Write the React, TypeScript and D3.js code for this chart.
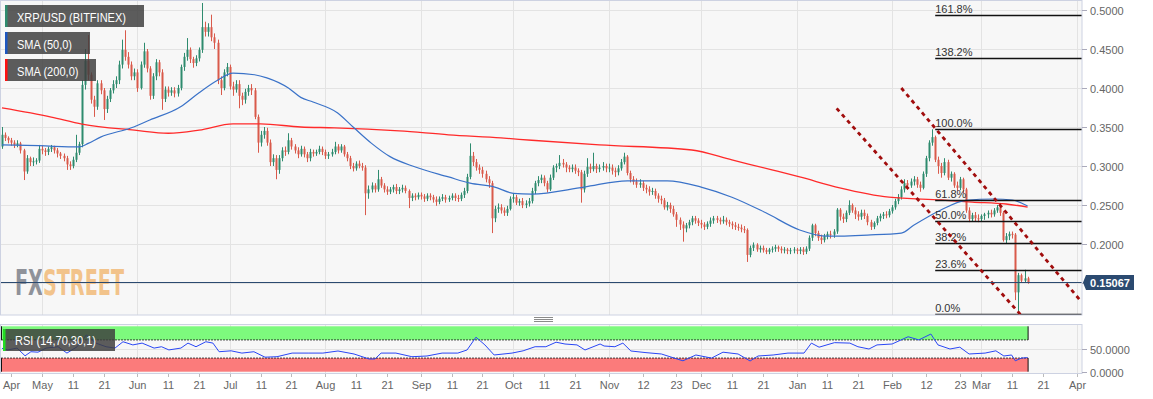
import React, { useEffect, useRef } from "react";
import * as d3 from "d3";

// daily XRP/USD candles from 2019-04-18, open of a day = close of the day before
const firstDay = "2019-04-18";
const lastDay = "2020-03-16";
const firstOpen = 0.325;

const closes = [
  0.340, 0.336, 0.333, 0.330, 0.327, 0.329, 0.320, 0.293, 0.310, 0.305,
  0.306, 0.307, 0.322, 0.320, 0.318, 0.322, 0.324, 0.320, 0.316, 0.313,
  0.310, 0.302, 0.300, 0.308, 0.317, 0.328, 0.404, 0.435, 0.417, 0.385,
  0.376, 0.406, 0.397, 0.373, 0.386, 0.397, 0.405, 0.410, 0.430, 0.449,
  0.440, 0.430, 0.415, 0.420, 0.400, 0.430, 0.447, 0.425, 0.390, 0.415,
  0.433, 0.420, 0.386, 0.398, 0.394, 0.397, 0.393, 0.400, 0.427, 0.440,
  0.449, 0.437, 0.432, 0.438, 0.449, 0.478, 0.472, 0.478, 0.465, 0.458,
  0.410, 0.400, 0.420, 0.427, 0.402, 0.398, 0.405, 0.390, 0.385, 0.395,
  0.400, 0.397, 0.363, 0.330, 0.340, 0.345, 0.330, 0.305, 0.310, 0.295,
  0.310, 0.320, 0.318, 0.333, 0.325, 0.320, 0.315, 0.322, 0.315, 0.310,
  0.318, 0.316, 0.318, 0.322, 0.318, 0.313, 0.315, 0.318, 0.325, 0.320,
  0.325, 0.315, 0.310, 0.300, 0.297, 0.303, 0.300, 0.298, 0.265, 0.270,
  0.275, 0.270, 0.283, 0.275, 0.270, 0.267, 0.270, 0.273, 0.268, 0.270,
  0.272, 0.268, 0.259, 0.262, 0.260, 0.263, 0.261, 0.258, 0.262, 0.260,
  0.257, 0.254, 0.258, 0.260, 0.257, 0.259, 0.262, 0.259, 0.258, 0.263,
  0.268, 0.286, 0.313, 0.305, 0.298, 0.295, 0.290, 0.283, 0.278, 0.233,
  0.245, 0.247, 0.243, 0.240, 0.245, 0.258, 0.260, 0.253, 0.255, 0.250,
  0.252, 0.255, 0.268, 0.278, 0.282, 0.285, 0.278, 0.270, 0.285, 0.298,
  0.300, 0.304, 0.302, 0.298, 0.296, 0.298, 0.294, 0.292, 0.270, 0.290,
  0.299, 0.296, 0.300, 0.296, 0.298, 0.300, 0.297, 0.298, 0.294, 0.292,
  0.297, 0.305, 0.312, 0.291, 0.283, 0.280, 0.276, 0.278, 0.272, 0.270,
  0.267, 0.268, 0.262, 0.258, 0.256, 0.247, 0.250, 0.245, 0.238, 0.231,
  0.225, 0.220, 0.224, 0.228, 0.233, 0.230, 0.227, 0.225, 0.222, 0.226,
  0.230, 0.233, 0.231, 0.229, 0.231, 0.228, 0.226, 0.224, 0.222, 0.221,
  0.219, 0.218, 0.186, 0.195, 0.199, 0.193, 0.195, 0.192, 0.190, 0.193,
  0.194, 0.196, 0.194, 0.192, 0.193, 0.191, 0.192, 0.193, 0.191, 0.193,
  0.190, 0.194, 0.208, 0.224, 0.214, 0.208, 0.205, 0.210, 0.213, 0.212,
  0.216, 0.244, 0.235, 0.232, 0.240, 0.250, 0.243, 0.238, 0.235, 0.240,
  0.236, 0.228, 0.222, 0.227, 0.233, 0.236, 0.238, 0.237, 0.242, 0.247,
  0.255, 0.260, 0.270, 0.278, 0.275, 0.280, 0.283, 0.276, 0.272, 0.290,
  0.310, 0.330, 0.337, 0.308, 0.300, 0.291, 0.305, 0.285, 0.290, 0.275,
  0.272, 0.283, 0.270, 0.243, 0.232, 0.237, 0.233, 0.232, 0.236, 0.238,
  0.240, 0.238, 0.243, 0.247, 0.240, 0.205, 0.210, 0.213, 0.212, 0.138,
  0.160, 0.153, 0.156, 0.15067,
];

const highs = [
  0.350, 0.343, 0.338, 0.336, 0.333, 0.333, 0.331, 0.322, 0.314, 0.312,
  0.311, 0.310, 0.327, 0.326, 0.323, 0.325, 0.327, 0.326, 0.323, 0.318,
  0.316, 0.313, 0.306, 0.312, 0.340, 0.331, 0.410, 0.450, 0.468, 0.420,
  0.390, 0.410, 0.410, 0.400, 0.390, 0.400, 0.410, 0.415, 0.435, 0.462,
  0.474, 0.446, 0.434, 0.425, 0.424, 0.434, 0.458, 0.450, 0.428, 0.419,
  0.437, 0.436, 0.424, 0.402, 0.402, 0.401, 0.401, 0.404, 0.430, 0.445,
  0.464, 0.452, 0.440, 0.442, 0.452, 0.509, 0.485, 0.483, 0.494, 0.470,
  0.462, 0.415, 0.424, 0.432, 0.430, 0.408, 0.410, 0.410, 0.394, 0.399,
  0.404, 0.405, 0.400, 0.366, 0.345, 0.350, 0.349, 0.334, 0.315, 0.314,
  0.314, 0.324, 0.325, 0.342, 0.336, 0.328, 0.324, 0.326, 0.325, 0.318,
  0.322, 0.321, 0.321, 0.326, 0.325, 0.321, 0.318, 0.322, 0.331, 0.328,
  0.328, 0.327, 0.318, 0.313, 0.304, 0.306, 0.307, 0.304, 0.301, 0.275,
  0.279, 0.278, 0.295, 0.286, 0.278, 0.274, 0.273, 0.276, 0.277, 0.273,
  0.276, 0.275, 0.270, 0.265, 0.265, 0.266, 0.266, 0.264, 0.265, 0.265,
  0.263, 0.261, 0.261, 0.264, 0.263, 0.262, 0.265, 0.265, 0.263, 0.266,
  0.272, 0.290, 0.329, 0.318, 0.309, 0.302, 0.299, 0.294, 0.287, 0.281,
  0.249, 0.252, 0.251, 0.247, 0.249, 0.261, 0.265, 0.263, 0.258, 0.259,
  0.256, 0.259, 0.272, 0.281, 0.287, 0.289, 0.288, 0.281, 0.289, 0.301,
  0.303, 0.314, 0.309, 0.305, 0.301, 0.302, 0.302, 0.297, 0.295, 0.294,
  0.310, 0.303, 0.317, 0.303, 0.302, 0.305, 0.303, 0.303, 0.302, 0.298,
  0.301, 0.309, 0.317, 0.314, 0.294, 0.287, 0.284, 0.283, 0.281, 0.276,
  0.274, 0.272, 0.271, 0.265, 0.262, 0.259, 0.254, 0.253, 0.249, 0.241,
  0.234, 0.229, 0.227, 0.231, 0.236, 0.236, 0.233, 0.231, 0.228, 0.229,
  0.234, 0.236, 0.236, 0.234, 0.236, 0.234, 0.231, 0.229, 0.228, 0.226,
  0.225, 0.223, 0.220, 0.198, 0.202, 0.201, 0.198, 0.198, 0.195, 0.195,
  0.197, 0.199, 0.198, 0.197, 0.196, 0.195, 0.195, 0.196, 0.195, 0.196,
  0.196, 0.197, 0.211, 0.226, 0.226, 0.217, 0.212, 0.213, 0.216, 0.217,
  0.219, 0.246, 0.246, 0.239, 0.243, 0.256, 0.252, 0.247, 0.242, 0.244,
  0.244, 0.239, 0.231, 0.229, 0.236, 0.239, 0.241, 0.242, 0.245, 0.250,
  0.258, 0.264, 0.274, 0.283, 0.282, 0.284, 0.287, 0.286, 0.280, 0.293,
  0.313, 0.333, 0.347, 0.339, 0.312, 0.304, 0.310, 0.308, 0.293, 0.292,
  0.280, 0.286, 0.285, 0.272, 0.247, 0.240, 0.241, 0.238, 0.238, 0.240,
  0.243, 0.244, 0.246, 0.250, 0.249, 0.242, 0.214, 0.216, 0.216, 0.214,
  0.163, 0.162, 0.167, 0.158,
];

const lows = [
  0.322, 0.332, 0.329, 0.326, 0.323, 0.324, 0.316, 0.282, 0.290, 0.300,
  0.300, 0.302, 0.304, 0.315, 0.313, 0.314, 0.318, 0.316, 0.311, 0.309,
  0.306, 0.295, 0.295, 0.297, 0.305, 0.314, 0.324, 0.398, 0.410, 0.380,
  0.363, 0.372, 0.392, 0.359, 0.368, 0.382, 0.393, 0.400, 0.405, 0.425,
  0.435, 0.425, 0.410, 0.410, 0.395, 0.398, 0.426, 0.420, 0.385, 0.386,
  0.410, 0.415, 0.372, 0.382, 0.389, 0.390, 0.388, 0.389, 0.397, 0.422,
  0.435, 0.432, 0.426, 0.428, 0.434, 0.445, 0.466, 0.466, 0.460, 0.450,
  0.405, 0.391, 0.397, 0.415, 0.398, 0.390, 0.394, 0.374, 0.378, 0.380,
  0.390, 0.391, 0.360, 0.317, 0.325, 0.335, 0.326, 0.300, 0.300, 0.283,
  0.290, 0.306, 0.313, 0.315, 0.321, 0.316, 0.310, 0.312, 0.311, 0.305,
  0.306, 0.312, 0.313, 0.315, 0.314, 0.309, 0.309, 0.312, 0.315, 0.316,
  0.317, 0.312, 0.306, 0.296, 0.293, 0.294, 0.297, 0.294, 0.237, 0.258,
  0.266, 0.266, 0.267, 0.272, 0.266, 0.263, 0.264, 0.266, 0.264, 0.264,
  0.266, 0.265, 0.246, 0.255, 0.256, 0.257, 0.257, 0.254, 0.255, 0.256,
  0.253, 0.249, 0.251, 0.255, 0.253, 0.254, 0.256, 0.255, 0.254, 0.255,
  0.259, 0.265, 0.283, 0.300, 0.294, 0.290, 0.285, 0.279, 0.272, 0.214,
  0.228, 0.240, 0.239, 0.236, 0.236, 0.243, 0.253, 0.250, 0.249, 0.246,
  0.246, 0.248, 0.252, 0.264, 0.274, 0.278, 0.274, 0.266, 0.268, 0.282,
  0.292, 0.296, 0.298, 0.292, 0.292, 0.292, 0.290, 0.287, 0.253, 0.266,
  0.286, 0.291, 0.293, 0.291, 0.292, 0.294, 0.292, 0.292, 0.289, 0.286,
  0.288, 0.294, 0.302, 0.288, 0.279, 0.276, 0.272, 0.272, 0.268, 0.265,
  0.262, 0.263, 0.258, 0.253, 0.251, 0.244, 0.243, 0.240, 0.235, 0.222,
  0.218, 0.203, 0.215, 0.220, 0.224, 0.226, 0.223, 0.220, 0.218, 0.219,
  0.222, 0.226, 0.227, 0.225, 0.226, 0.224, 0.222, 0.219, 0.218, 0.217,
  0.215, 0.214, 0.177, 0.183, 0.191, 0.190, 0.189, 0.189, 0.187, 0.187,
  0.189, 0.190, 0.190, 0.188, 0.188, 0.187, 0.187, 0.188, 0.187, 0.187,
  0.186, 0.187, 0.191, 0.204, 0.210, 0.204, 0.200, 0.202, 0.206, 0.207,
  0.208, 0.213, 0.230, 0.227, 0.228, 0.237, 0.240, 0.232, 0.230, 0.231,
  0.232, 0.224, 0.218, 0.219, 0.224, 0.229, 0.232, 0.233, 0.234, 0.239,
  0.244, 0.251, 0.257, 0.266, 0.270, 0.272, 0.275, 0.272, 0.267, 0.270,
  0.286, 0.306, 0.326, 0.305, 0.290, 0.285, 0.288, 0.282, 0.280, 0.272,
  0.268, 0.269, 0.265, 0.240, 0.228, 0.229, 0.229, 0.228, 0.229, 0.231,
  0.233, 0.234, 0.235, 0.240, 0.236, 0.203, 0.200, 0.205, 0.207, 0.128,
  0.109, 0.150, 0.150, 0.149,
];

// moving averages (day number from firstDay, value)
const sma50Days = [0, 12, 25, 28, 32, 42, 48, 58, 64, 70, 75, 82, 86, 93, 97, 101, 109, 114, 120, 126, 134, 145, 152, 160, 166, 172, 189, 203, 216, 227, 237, 248, 259, 268, 281, 292, 296, 305, 313, 322, 328, 333];
const sma50Vals = [0.327, 0.326, 0.3244, 0.329, 0.337, 0.349, 0.359, 0.376, 0.394, 0.41, 0.419, 0.417, 0.413, 0.4, 0.388, 0.382, 0.368, 0.35, 0.329, 0.312, 0.299, 0.286, 0.278, 0.273, 0.265, 0.264, 0.273, 0.281, 0.281, 0.273, 0.26, 0.24, 0.218, 0.21, 0.2115, 0.214, 0.224, 0.244, 0.256, 0.2577, 0.2564, 0.2487];

const sma200Days = [0, 16, 26, 43, 54, 64, 75, 84, 97, 108, 129, 145, 162, 172, 194, 224, 237, 250, 259, 272, 288, 305, 315, 326, 333];
const sma200Vals = [0.3744, 0.3628, 0.3538, 0.346, 0.342, 0.346, 0.354, 0.354, 0.35, 0.349, 0.345, 0.34, 0.336, 0.333, 0.327, 0.3205, 0.3077, 0.295, 0.286, 0.272, 0.26, 0.2564, 0.2538, 0.2513, 0.2474];

// RSI(14)
const rsiDays = [0, 1.9, 4.9, 7.5, 9.4, 11.7, 14.3, 18.2, 21.1, 24.4, 27.4, 30.5, 33.8, 36.7, 39.3, 42.5, 45.5, 49.4, 51.8, 54.2, 58.1, 60.4, 63, 66.2, 68.5, 70.5, 74.4, 77.9, 81.8, 85.4, 89.3, 94.2, 99.4, 104.2, 109.1, 114.3, 119.2, 121.1, 123.1, 127.9, 133.1, 138, 142.9, 148, 151, 153.9, 156.8, 159.8, 165.6, 169.2, 173.1, 176.6, 179.9, 182.8, 186.7, 189.3, 194.2, 195.5, 199, 201.6, 204.2, 209.1, 214.1, 219.2, 221.1, 225.3, 230.4, 234.1, 239, 242.9, 245.5, 250.4, 255.2, 260.4, 262.8, 265.3, 270.3, 275.3, 277.9, 281.5, 284.1, 289, 294.2, 297.7, 301.6, 303.9, 307.8, 311, 314, 319.2, 322.7, 325.3, 327.8, 329, 331, 333];
const rsiVals = [51.5, 48, 52, 35, 44, 43, 52, 55, 41, 55, 81, 63, 55, 52, 66, 59, 63, 52, 55, 48, 52, 63, 55, 66, 63, 44, 46, 41, 44, 32, 33, 41, 41, 41, 45.6, 39, 28, 28, 41, 41, 33, 34.6, 41, 41, 47.8, 76, 59, 36.8, 41, 46, 55, 55, 65, 61, 59, 47.8, 61, 56.6, 55, 63, 45.6, 42, 39, 28, 24, 36.8, 30, 43, 39, 23.6, 34.6, 36.8, 41, 41, 63, 54, 64, 63, 55, 50, 59, 61, 77, 70, 83, 59, 50, 54, 39, 41, 46, 34.6, 36.8, 24, 30, 31];

// 0.15 is a grid line only: its label sits under the last price tag
const priceGrid = [0.15, 0.2, 0.25, 0.3, 0.35, 0.4, 0.45, 0.5];
const priceTicks = [0.2, 0.25, 0.3, 0.35, 0.4, 0.45, 0.5];
const rsiTicks = [0, 50];

const dateTicks = ["2019-04-21", "2019-05-01", "2019-05-11", "2019-05-21", "2019-06-01", "2019-06-11", "2019-06-21", "2019-07-01", "2019-07-11", "2019-07-21", "2019-08-01", "2019-08-11", "2019-08-21", "2019-09-01", "2019-09-11", "2019-09-21", "2019-10-01", "2019-10-11", "2019-10-21", "2019-11-01", "2019-11-12", "2019-11-23", "2019-12-01", "2019-12-11", "2019-12-21", "2020-01-01", "2020-01-11", "2020-01-21", "2020-02-01", "2020-02-12", "2020-02-23", "2020-03-01", "2020-03-11", "2020-03-21", "2020-04-01"];
const dateLabels = ["Apr", "May", "11", "21", "Jun", "11", "21", "Jul", "11", "21", "Aug", "11", "21", "Sep", "11", "21", "Oct", "11", "21", "Nov", "12", "23", "Dec", "11", "21", "Jan", "11", "21", "Feb", "12", "23", "Mar", "11", "21", "Apr"];
const monthLines = ["2019-05-01", "2019-06-01", "2019-07-01", "2019-08-01", "2019-09-01", "2019-10-01", "2019-11-01", "2019-12-01", "2020-01-01", "2020-02-01", "2020-03-01", "2020-04-01"];

// fibonacci retracement of the Feb high / Mar low
const fibLevels = [0, 0.236, 0.382, 0.5, 0.618, 1, 1.382, 1.618];
const fibLabels = ["0.0%", "23.6%", "38.2%", "50.0%", "61.8%", "100.0%", "138.2%", "161.8%"];
const fibLow = 0.1103;
const fibHigh = 0.3474;
const fibStart = "2020-02-15";

// descending channel drawn on the chart
const channelUpperDays = ["2020-02-04", "2020-04-02"];
const channelUpperVals = [0.4, 0.1282];
const channelLowerDays = ["2020-01-14", "2020-03-14"];
const channelLowerVals = [0.3738, 0.1082];

const lastPrice = 0.15067;

const GREEN = "#2e8b6e";
const RED = "#d95a4b";
const FONT = "'Liberation Sans', Arial, sans-serif";

function App() {
  const svgRef = useRef<SVGSVGElement>(null);
  const width = 1153;
  const height = 399;

  const left = 1;
  const right = 1082;
  const mainTop = 0;
  const mainBottom = 315;
  const rsiTop = 324;
  const rsiBottom = 373;

  useEffect(() => {
    const svg = d3.select(svgRef.current);
    svg.selectAll("*").remove();

    const parse = d3.utcParse("%Y-%m-%d");
    const start = parse(firstDay)!;
    const x = d3.scaleUtc().domain([start, parse(lastDay)!]).range([1.96, 1027.6]);
    const xi = (i: number) => x(new Date(start.getTime() + i * 864e5));
    const y = d3.scaleLinear().domain([0.2, 0.5]).range([244, 10]);
    const yr = d3.scaleLinear().domain([0, 50]).range([371.7, 349]);

    const defs = svg.append("defs");
    defs.append("clipPath").attr("id", "mainClip")
      .append("rect").attr("x", left).attr("y", mainTop).attr("width", right - left).attr("height", mainBottom - mainTop);
    defs.append("clipPath").attr("id", "rsiClip")
      .append("rect").attr("x", left).attr("y", rsiTop).attr("width", right - left).attr("height", rsiBottom - rsiTop);
    // two-colour fill for the FXSTREET watermark
    const wmGrad = defs.append("linearGradient").attr("id", "wmFill")
      .attr("gradientUnits", "userSpaceOnUse").attr("x1", 15).attr("x2", 124).attr("y1", 0).attr("y2", 0);
    wmGrad.append("stop").attr("offset", 0).attr("stop-color", "#8f929a");
    wmGrad.append("stop").attr("offset", 0.25).attr("stop-color", "#8f929a");
    wmGrad.append("stop").attr("offset", 0.25).attr("stop-color", "#f2c38b");
    wmGrad.append("stop").attr("offset", 1).attr("stop-color", "#f2c38b");

    svg.append("rect").attr("width", width).attr("height", height).attr("fill", "#fff");

    // panels
    svg.append("rect").attr("x", left).attr("y", mainTop).attr("width", right - left).attr("height", mainBottom - mainTop).attr("fill", "#f7f7f7");
    svg.append("rect").attr("x", left).attr("y", rsiTop).attr("width", right - left).attr("height", rsiBottom - rsiTop).attr("fill", "#f7f7f7");

    // grid
    const grid = svg.append("g").attr("stroke", "#e3e3e3").attr("stroke-width", 1);
    grid.selectAll("line.h").data(priceGrid).join("line")
      .attr("x1", left).attr("x2", right)
      .attr("y1", (d) => Math.round(y(d)) + 0.5).attr("y2", (d) => Math.round(y(d)) + 0.5);
    grid.selectAll("line.vm").data(monthLines).join("line")
      .attr("x1", (d) => Math.round(x(parse(d)!)) + 0.5).attr("x2", (d) => Math.round(x(parse(d)!)) + 0.5)
      .attr("y1", mainTop).attr("y2", mainBottom);
    grid.selectAll("line.vr").data(monthLines).join("line")
      .attr("x1", (d) => Math.round(x(parse(d)!)) + 0.5).attr("x2", (d) => Math.round(x(parse(d)!)) + 0.5)
      .attr("y1", rsiTop).attr("y2", rsiBottom);
    grid.append("line").attr("x1", left).attr("x2", right).attr("y1", Math.round(yr(50)) + 0.5).attr("y2", Math.round(yr(50)) + 0.5);

    // watermark
    svg.append("text").attr("x", 15).attr("y", 295)
      .attr("font-family", "'DejaVu Sans', Roboto, sans-serif").attr("font-weight", "bold").attr("font-size", 35)
      .attr("textLength", 109).attr("lengthAdjust", "spacingAndGlyphs")
      .attr("fill", "url(#wmFill)").text("FXSTREET");

    const main = svg.append("g").attr("clip-path", "url(#mainClip)");

    // candles
    const candles = closes.map((c, i) => ({
      i,
      o: i === 0 ? firstOpen : closes[i - 1],
      h: highs[i],
      l: lows[i],
      c,
    }));
    const cx = (i: number) => Math.round(xi(i)) - 1;
    main.append("g").selectAll("line").data(candles).join("line")
      .attr("x1", (d) => cx(d.i) + 1.5).attr("x2", (d) => cx(d.i) + 1.5)
      .attr("y1", (d) => y(d.h)).attr("y2", (d) => y(d.l))
      .attr("stroke", (d) => (d.c >= d.o ? GREEN : RED)).attr("stroke-width", 1);
    main.append("g").selectAll("rect").data(candles).join("rect")
      .attr("x", (d) => cx(d.i) + 0.5).attr("width", 2)
      .attr("y", (d) => y(Math.max(d.o, d.c)))
      .attr("height", (d) => Math.max(1, Math.abs(y(d.o) - y(d.c))))
      .attr("fill", (d) => (d.c >= d.o ? GREEN : RED));

    // moving averages
    const smaLine = d3.line<[number, number]>().x((d) => xi(d[0])).y((d) => y(d[1])).curve(d3.curveMonotoneX);
    main.append("path").attr("d", smaLine(sma200Days.map((d, k) => [d, sma200Vals[k]]))!)
      .attr("fill", "none").attr("stroke", "#ff2a2a").attr("stroke-width", 1.3);
    main.append("path").attr("d", smaLine(sma50Days.map((d, k) => [d, sma50Vals[k]]))!)
      .attr("fill", "none").attr("stroke", "#3a72c8").attr("stroke-width", 1.2);

    // fibonacci
    const fibX = x(parse(fibStart)!);
    const fib = main.append("g");
    fib.selectAll("line").data(fibLevels).join("line")
      .attr("x1", fibX).attr("x2", right)
      .attr("y1", (d) => Math.round(y(fibLow + d * (fibHigh - fibLow))) + 0.5)
      .attr("y2", (d) => Math.round(y(fibLow + d * (fibHigh - fibLow))) + 0.5)
      .attr("stroke", "#111").attr("stroke-width", 1.3);
    fib.selectAll("text").data(fibLevels).join("text")
      .attr("x", fibX).attr("y", (d) => Math.round(y(fibLow + d * (fibHigh - fibLow))) - 2)
      .attr("font-family", FONT).attr("font-size", 11).attr("fill", "#333")
      .text((d, k) => fibLabels[k]);

    // channel
    const chan = d3.line<[Date, number]>().x((d) => x(d[0])).y((d) => y(d[1]));
    const chanStyle = (p: d3.Selection<SVGPathElement, unknown, null, undefined>) =>
      p.attr("fill", "none").attr("stroke", "#a10d0d").attr("stroke-width", 2.8).attr("stroke-dasharray", "4 4");
    main.append("path").attr("d", chan(channelUpperDays.map((d, k) => [parse(d)!, channelUpperVals[k]]))!).call(chanStyle);
    main.append("path").attr("d", chan(channelLowerDays.map((d, k) => [parse(d)!, channelLowerVals[k]]))!).call(chanStyle);

    // last price line
    const py = Math.round(y(lastPrice)) + 0.5;
    main.append("line").attr("x1", left).attr("x2", right).attr("y1", py).attr("y2", py)
      .attr("stroke", "#2b4a70").attr("stroke-width", 1);

    // RSI panel
    const rsi = svg.append("g").attr("clip-path", "url(#rsiClip)");
    const bandRight = xi(closes.length - 1) + 0.5;
    rsi.append("rect").attr("x", left).attr("y", yr(100)).attr("width", bandRight - left).attr("height", yr(70) - yr(100)).attr("fill", "#7dfa7d");
    rsi.append("rect").attr("x", left).attr("y", yr(30)).attr("width", bandRight - left).attr("height", yr(0) - yr(30)).attr("fill", "#fb7b7b");
    [[100, 70], [30, 0]].forEach(([a, b]) => {
      [left + 0.5, bandRight].forEach((bx) => {
        rsi.append("line").attr("x1", bx).attr("x2", bx).attr("y1", yr(a)).attr("y2", yr(b)).attr("stroke", "#111").attr("stroke-width", 1);
      });
    });
    [70, 30].forEach((v) => {
      rsi.append("line").attr("x1", left).attr("x2", bandRight).attr("y1", yr(v)).attr("y2", yr(v))
        .attr("stroke", "#111").attr("stroke-width", 0.8).attr("stroke-dasharray", "2 1");
    });
    const rsiLine = d3.line<[number, number]>().x((d) => xi(d[0])).y((d) => yr(d[1]));
    rsi.append("path").attr("d", rsiLine(rsiDays.map((d, k) => [d, rsiVals[k]]))!)
      .attr("fill", "none").attr("stroke", "#2946f5").attr("stroke-width", 1);

    // panel borders
    svg.append("rect").attr("x", 0.5).attr("y", 0.5).attr("width", right - 0.5).attr("height", mainBottom - 0.5)
      .attr("fill", "none").attr("stroke", "#cdd2e2");
    svg.append("rect").attr("x", 0.5).attr("y", rsiTop + 0.5).attr("width", right - 0.5).attr("height", rsiBottom - rsiTop)
      .attr("fill", "none").attr("stroke", "#cdd2e2");

    // resize handle
    [317.5, 319.5, 321.5].forEach((hy) => {
      svg.append("line").attr("x1", 534).attr("x2", 553).attr("y1", hy).attr("y2", hy).attr("stroke", "#8a8a8a").attr("stroke-width", 1);
    });

    // price axis
    const axis = svg.append("g").attr("font-family", FONT).attr("font-size", 11).attr("fill", "#666");
    priceGrid.forEach((t) => {
      const ty = Math.round(y(t)) + 0.5;
      axis.append("line").attr("x1", right).attr("x2", right + 5).attr("y1", ty).attr("y2", ty).attr("stroke", "#aab").attr("stroke-width", 1);
    });
    priceTicks.forEach((t) => {
      const ty = Math.round(y(t)) + 0.5;
      axis.append("text").attr("x", right + 8).attr("y", ty + 4).text(d3.format(".4f")(t));
    });
    rsiTicks.forEach((t) => {
      const ty = Math.round(yr(t)) + 0.5;
      axis.append("line").attr("x1", right).attr("x2", right + 5).attr("y1", ty).attr("y2", ty).attr("stroke", "#aab").attr("stroke-width", 1);
      axis.append("text").attr("x", right + 8).attr("y", ty + 4).text(d3.format(".4f")(t));
    });

    // last price tag
    const tag = svg.append("g");
    tag.append("path")
      .attr("d", `M${right + 1},${py} L${right + 4},${py - 7.5} L${right + 52},${py - 7.5} L${right + 52},${py + 7.5} L${right + 4},${py + 7.5} Z`)
      .attr("fill", "#2b4a70");
    tag.append("text").attr("x", right + 28).attr("y", py + 4).attr("text-anchor", "middle")
      .attr("font-family", FONT).attr("font-size", 11).attr("font-weight", "bold").attr("fill", "#fff")
      .text(d3.format(".5f")(lastPrice));

    // date axis
    const dax = svg.append("g").attr("font-family", FONT).attr("font-size", 11).attr("fill", "#666");
    dateTicks.forEach((d, k) => {
      const tx = Math.round(x(parse(d)!)) + 0.5;
      dax.append("line").attr("x1", tx).attr("x2", tx).attr("y1", rsiBottom + 1).attr("y2", rsiBottom + 4).attr("stroke", "#bbb");
      dax.append("text").attr("x", tx).attr("y", 389).attr("text-anchor", "middle").text(dateLabels[k]);
    });

    // legends
    const legend = (lx: number, ly: number, w: number, h: number, color: string, label: string, tw: number, base: number) => {
      const g = svg.append("g");
      g.append("rect").attr("x", lx).attr("y", ly).attr("width", w).attr("height", h).attr("fill", "rgba(62,62,62,0.84)");
      g.append("rect").attr("x", lx).attr("y", ly).attr("width", 2.5).attr("height", h).attr("fill", color);
      g.append("text").attr("x", lx + 12).attr("y", base).attr("font-family", FONT).attr("font-size", 12.5)
        .attr("fill", "#fff").attr("textLength", tw).attr("lengthAdjust", "spacingAndGlyphs").text(label);
    };
    legend(5, 5, 139, 22, "#2e8b6e", "XRP/USD (BITFINEX)", 109, 21.5);
    legend(5, 32, 85, 22, "#1d56c0", "SMA (50,0)", 55, 48.5);
    legend(5, 59, 91, 22, "#ff1010", "SMA (200,0)", 61.5, 75.5);
    legend(3, 329, 112, 22, "#22dd22", "RSI (14,70,30,1)", 81, 345);
  }, []);

  return (
    <svg
      ref={svgRef}
      width={width}
      height={height}
      style={{ position: "absolute", left: 0, top: 0, display: "block" }}
    ></svg>
  );
}

export default App;
